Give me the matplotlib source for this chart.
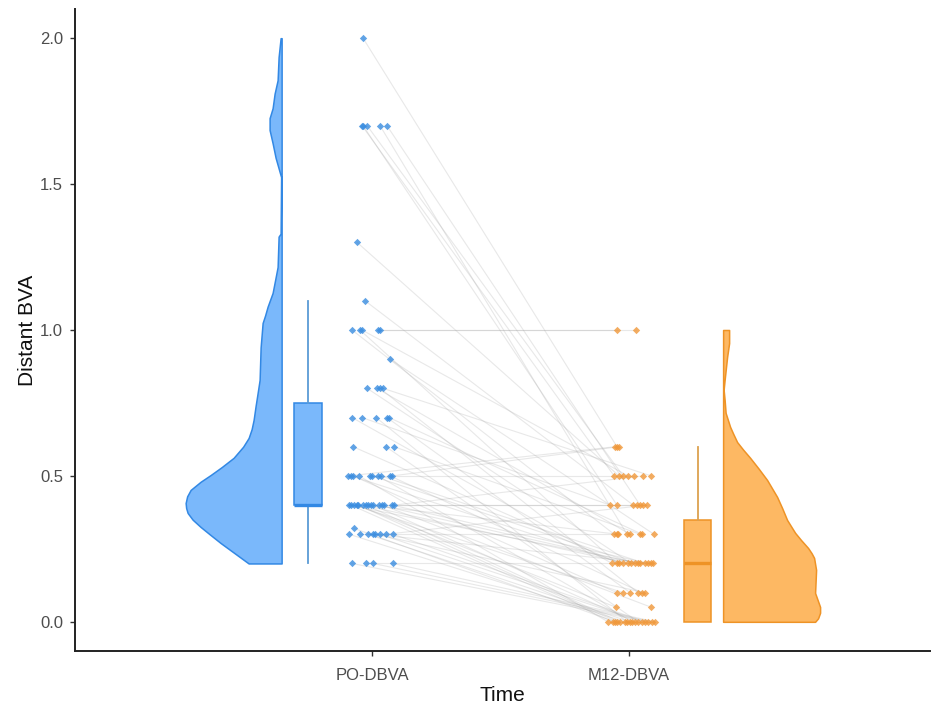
"""
Raincloud plot of distant BVA, pre-op vs month 12.
Run: python3 plot.py
"""

import matplotlib
matplotlib.use("Agg")
import matplotlib.pyplot as plt

plt.rcParams["font.family"] = ["Liberation Sans", "DejaVu Sans"]

# ── Data ──────────────────────────────────────────────────────────────────────
time_labels = ["PO-DBVA", "M12-DBVA"]
y_ticks = [0.0, 0.5, 1.0, 1.5, 2.0]

# One entry per eye, same order in all four lists (pairs are joined by lines)
po_y = [2.0,
        1.7, 1.7, 1.7, 1.7, 1.7,
        1.3,
        1.1,
        1.0, 1.0, 1.0, 1.0, 1.0,
        0.9,
        0.8, 0.8, 0.8, 0.8,
        0.7, 0.7, 0.7, 0.7, 0.7,
        0.6, 0.6, 0.6,
        0.5, 0.5, 0.5, 0.5, 0.5, 0.5, 0.5, 0.5, 0.5, 0.5,
        0.4, 0.4, 0.4, 0.4, 0.4, 0.4, 0.4, 0.4, 0.4, 0.4, 0.4, 0.4, 0.4, 0.4, 0.4,
        0.32,
        0.3, 0.3, 0.3, 0.3, 0.3, 0.3, 0.3, 0.3,
        0.2, 0.2, 0.2, 0.2]
po_jitter = [-0.035,
             -0.039, -0.035, -0.019, 0.031, 0.058,
             -0.058,
             -0.027,
             -0.078, -0.047, -0.039, 0.023, 0.031,
             0.070,
             -0.019, 0.019, 0.031, 0.043,
             -0.078, -0.039, 0.016, 0.058, 0.066,
             -0.074, 0.054, 0.086,
             -0.093, -0.082, -0.074, -0.051, -0.008, 0.0, 0.023, 0.035, 0.070, 0.078,
             -0.089, -0.082, -0.070, -0.058, -0.054, -0.035, -0.023, -0.016, -0.004,
             0.004, 0.027, 0.039, 0.047, 0.078, 0.086,
             -0.070,
             -0.089, -0.047, -0.016, 0.004, 0.012, 0.031, 0.054, 0.082,
             -0.078, -0.023, 0.004, 0.082]
m12_y = [0.6,
         0.5, 0.4, 0.5, 0.3, 0.4,
         0.5,
         0.4,
         0.3, 0.2, 0.5, 1.0, 1.0,
         0.3,
         0.2, 0.3, 0.1, 0.5,
         0.2, 0.4, 0.0, 0.1, 0.3,
         0.2, 0.0, 0.3,
         0.6, 0.2, 0.1, 0.0, 0.5, 0.2, 0.0, 0.2, 0.1, 0.6,
         0.2, 0.0, 0.1, 0.05, 0.0, 0.2, 0.0, 0.3, 0.4, 0.0, 0.2, 0.05, 0.4, 0.2, 0.5,
         0.0,
         0.0, 0.3, 0.0, 0.2, 0.1, 0.0, 0.4, 0.0,
         0.0, 0.2, 0.0, 0.0]
m12_jitter = [-0.047,
              -0.058, -0.047, -0.023, -0.008, 0.043,
              -0.039,
              0.016,
              -0.058, -0.047, -0.004, -0.047, 0.027,
              0.097,
              0.008, 0.004, 0.035, 0.086,
              -0.066, -0.074, -0.008, 0.004, 0.051,
              -0.039, 0.035, 0.043,
              -0.054, -0.023, -0.047, -0.082, 0.019, 0.023, 0.012, 0.062, 0.051, -0.039,
              0.043, -0.062, -0.023, -0.051, -0.047, -0.004, -0.035, -0.043, 0.031,
              0.023, 0.035, 0.086, 0.054, 0.074, 0.054,
              -0.054,
              -0.016, -0.047, 0.004, 0.086, 0.062, 0.051, 0.070, 0.062,
              0.074, 0.093, 0.089, 0.101]

# Half-violin outlines
po_dens_y = [0.2, 0.27, 0.30, 0.325, 0.35, 0.373, 0.39, 0.407, 0.43, 0.452, 0.48,
             0.503, 0.53, 0.562, 0.60, 0.63, 0.66, 0.692, 0.74, 0.784, 0.829, 0.94,
             1.024, 1.05, 1.08, 1.127, 1.18, 1.216, 1.32, 1.33, 1.524, 1.53, 1.59,
             1.64, 1.685, 1.726, 1.76, 1.81, 1.856, 1.935, 2.0]
po_dens = [0.33, 0.61, 0.72, 0.81, 0.89, 0.94, 0.955, 0.96, 0.945, 0.91, 0.81,
           0.71, 0.60, 0.48, 0.385, 0.33, 0.30, 0.28, 0.26, 0.24, 0.22, 0.21,
           0.19, 0.165, 0.14, 0.09, 0.06, 0.04, 0.03, 0.01, 0.005, 0.01, 0.06,
           0.09, 0.12, 0.12, 0.09, 0.07, 0.04, 0.03, 0.01]
m12_dens_y = [0.0, 0.012, 0.031, 0.051, 0.075, 0.099, 0.178, 0.219, 0.235, 0.253,
              0.28, 0.305, 0.349, 0.39, 0.428, 0.486, 0.525, 0.562, 0.59, 0.616,
              0.645, 0.668, 0.716, 0.76, 0.795, 0.829, 0.908, 0.955, 1.0]
m12_dens = [0.92, 0.95, 0.97, 0.97, 0.945, 0.92, 0.93, 0.91, 0.885, 0.85,
            0.78, 0.72, 0.64, 0.59, 0.54, 0.44, 0.355, 0.27, 0.20, 0.14,
            0.10, 0.07, 0.025, 0.015, 0.005, 0.015, 0.04, 0.06, 0.06]

# Box stats: whisker low, q1, median, q3, whisker high
po_box = dict(whislo=0.2, q1=0.4, med=0.4, q3=0.75, whishi=1.1, fliers=[])
m12_box = dict(whislo=0.0, q1=0.0, med=0.2, q3=0.35, whishi=0.6, fliers=[])

# ── Style ─────────────────────────────────────────────────────────────────────
BLUE_FILL, BLUE_EDGE, BLUE_PT = "#7ab8fb", "#3288e4", "#3a8de0"
ORANGE_FILL, ORANGE_EDGE, ORANGE_PT = "#fdb863", "#ee9326", "#f0983a"
DENS_SCALE = 0.389

fig = plt.figure(figsize=(9.35, 7.08), dpi=100)
ax = fig.add_axes([75 / 935, 1 - 651 / 708, 855 / 935, 642 / 708])

# ── Paired lines ──────────────────────────────────────────────────────────────
for yp, jp, ym, jm in zip(po_y, po_jitter, m12_y, m12_jitter):
    ax.plot([1 + jp, 2 + jm], [yp, ym], color="#a0a0a0", lw=0.8, alpha=0.24, zorder=1)

# ── Points ────────────────────────────────────────────────────────────────────
ax.scatter([1 + j for j in po_jitter], po_y, marker="D", s=14,
           color=BLUE_PT, alpha=0.8, linewidths=0, zorder=3)
ax.scatter([2 + j for j in m12_jitter], m12_y, marker="D", s=14,
           color=ORANGE_PT, alpha=0.8, linewidths=0, zorder=3)

# ── Half violins ──────────────────────────────────────────────────────────────
po_base = 1 - 0.352
m12_base = 2 + 0.366
ax.fill_betweenx(po_dens_y, po_base, [po_base - d * DENS_SCALE for d in po_dens],
                 facecolor=BLUE_FILL, edgecolor=BLUE_EDGE, lw=1.1, zorder=2)
ax.fill_betweenx(m12_dens_y, m12_base, [m12_base + d * DENS_SCALE for d in m12_dens],
                 facecolor=ORANGE_FILL, edgecolor=ORANGE_EDGE, lw=1.1, zorder=2)

# ── Boxes ─────────────────────────────────────────────────────────────────────
for stats, pos, fill, edge, whisk in [(po_box, 1 - 0.249, BLUE_FILL, BLUE_EDGE, "#5b9bd5"),
                                      (m12_box, 2 + 0.267, ORANGE_FILL, ORANGE_EDGE, "#dca14f")]:
    ax.bxp([stats], positions=[pos], widths=0.107, patch_artist=True,
           showcaps=False, showfliers=False, manage_ticks=False,
           boxprops=dict(facecolor=fill, edgecolor=edge, lw=1.1),
           medianprops=dict(color=edge, lw=2.4, solid_capstyle="butt"),
           whiskerprops=dict(color=whisk, lw=1.3), zorder=2)

# ── Axes ──────────────────────────────────────────────────────────────────────
ax.set_xlim(-0.156, 3.171)
ax.set_ylim(-0.1, 2.1)
ax.set_xticks([1, 2])
ax.set_xticklabels(time_labels, fontsize=12, color="#4d4d4d")
ax.set_yticks(y_ticks)
ax.set_yticklabels([f"{v:.1f}" for v in y_ticks], fontsize=12, color="#4d4d4d")
ax.tick_params(length=3.5, width=1, color="#333333")
ax.tick_params(axis="x", pad=9)
ax.tick_params(axis="y", pad=5)
ax.set_xlabel("Time", fontsize=15, color="#111111", labelpad=2)
ax.set_ylabel("Distant BVA", fontsize=15, color="#111111", labelpad=2)
for side in ["top", "right"]:
    ax.spines[side].set_visible(False)
for side in ["left", "bottom"]:
    ax.spines[side].set_linewidth(1.4)
    ax.spines[side].set_color("#222222")

fig.savefig("out.png", dpi=100)
